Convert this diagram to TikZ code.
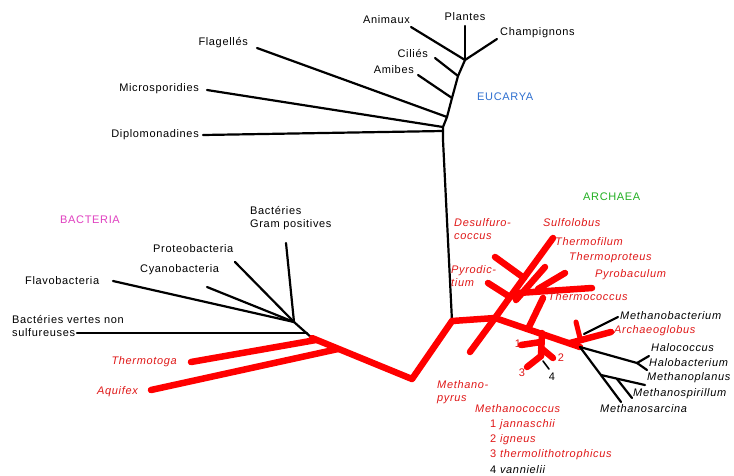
\documentclass[tikz,border=0pt]{standalone}
\usepackage{fontspec}
\setmainfont{Liberation Sans}[LetterSpace=6]
\definecolor{lred}{HTML}{FF0000}
\definecolor{tred}{HTML}{E01818}
\definecolor{eublue}{HTML}{2E6FD0}
\definecolor{argreen}{HTML}{22B022}
\definecolor{bamag}{HTML}{E040C0}
\begin{document}
\begin{tikzpicture}[x=1pt,y=-1pt,
  blk/.style={line width=2.2pt,black,line cap=round,line join=round},
  thin/.style={line width=1.6pt,black,line cap=round,line join=round},
  rd/.style={line width=6.5pt,lred,line cap=round,line join=round},
  lab/.style={inner sep=0pt,font=\fontsize{11}{13}\selectfont},
  ilab/.style={lab,font=\fontsize{11}{13}\selectfont\itshape},
  rlab/.style={ilab,text=tred},
  grp/.style={inner sep=0pt,font=\fontsize{11}{13}\selectfont}]
\useasboundingbox (0,0) rectangle (734,475);
\fill[white] (0,0) rectangle (734,475);

% ---------- Eukarya ----------
\coordinate (eA) at (465,60);
\coordinate (eC) at (458,76);
\coordinate (eAm) at (452,98);
\coordinate (eF) at (447,117);
\coordinate (eM) at (443,127);
\coordinate (eD) at (443,131);
\coordinate (J0) at (452,321);
\coordinate (tPl) at (465,26);
\coordinate (tCh) at (497,39);
\coordinate (tAn) at (411,27);
\coordinate (tCi) at (435,58);
\coordinate (tAm) at (418,75);
\coordinate (tFl) at (257,48);
\coordinate (tMi) at (207,90);
\coordinate (tDi) at (203,135);

\draw[blk] (tPl) -- (eA);
\draw[blk] (tCh) -- (eA);
\draw[blk] (tAn) -- (eA);
\draw[blk] (tCi) -- (eC);
\draw[blk] (tAm) -- (eAm);
\draw[blk] (tFl) -- (eF);
\draw[blk] (tMi) -- (eM);
\draw[blk] (tDi) -- (eD);
\draw[blk] (eA) -- (eC) -- (eAm) -- (eF) -- (eM) -- (eD) -- (443,140) -- (J0);

\node[lab,anchor=south] (lPl) at (465,21) {Plantes};
\node[lab,anchor=west] (lCh) at (500,33) {Champignons};
\node[lab,anchor=east] (lAn) at (410,20) {Animaux};
\node[lab,anchor=east] (lCi) at (428,53) {Ciliés};
\node[lab,anchor=east] (lAm) at (414,70) {Amibes};
\node[lab,anchor=east] (lFl) at (248,43) {Flagellés};
\node[lab,anchor=east] (lMi) at (199,89) {Microsporidies};
\node[lab,anchor=east] (lDi) at (199,135) {Diplomonadines};
\node[grp,anchor=west,text=eublue] (gEu) at (477,97) {EUCARYA};

% ---------- Bacteria ----------
\coordinate (bJ) at (294,322);
\coordinate (bR) at (312,338);
\coordinate (bV) at (412,379);
\coordinate (bT) at (316,340);
\coordinate (bAq) at (338,349);
\coordinate (tGr) at (286,243);
\coordinate (tPr) at (235,262);
\coordinate (tCy) at (207,287);
\coordinate (tFv) at (113,281);
\coordinate (tBv) at (77,333);
\coordinate (bBv) at (307,333);
\coordinate (tTh) at (191,362);
\coordinate (tAq) at (151,390);

\draw[blk] (tGr) -- (bJ);
\draw[blk] (tPr) -- (bJ);
\draw[blk] (tCy) -- (bJ);
\draw[blk] (tFv) -- (bJ);
\draw[blk] (tBv) -- (bBv);
\draw[blk] (bJ) -- (bR);
\draw[rd] (tTh) -- (bT);
\draw[rd] (tAq) -- (bAq);
\draw[rd] (bR) -- (bV) -- (J0);

\node[grp,anchor=west,text=bamag] (gBa) at (60,220) {BACTERIA};
\node[lab,anchor=north west,align=left] (lGr) at (250,206) {Bactéries\\Gram positives};
\node[lab,anchor=west] (lPr) at (153,249) {Proteobacteria};
\node[lab,anchor=west] (lCy) at (140,270) {Cyanobacteria};
\node[lab,anchor=west] (lFv) at (25,281) {Flavobacteria};
\node[lab,anchor=north west,align=left] (lBv) at (12,315) {Bactéries vertes non\\sulfureuses};
\node[rlab,anchor=east] (lTh) at (177,362) {Thermotoga};
\node[rlab,anchor=east] (lAq) at (138,392) {Aquifex};

% ---------- Archaea ----------
\coordinate (A1) at (495,318);
\coordinate (C) at (510,297);
\coordinate (D) at (524,278);
\coordinate (P1) at (518,293);
\coordinate (P2) at (516,300);
\coordinate (P3) at (538,289);
\coordinate (N) at (580,347);
\coordinate (Tc) at (529,327);
\coordinate (Mc) at (542,333);
\coordinate (Mc1) at (541,342);
\coordinate (Mc2) at (541,348);
\coordinate (Mc3) at (541,356);
\coordinate (Ag) at (570,343);
\coordinate (tMp) at (470,352);
\coordinate (tSu) at (553,238);
\coordinate (tDe) at (495,257);
\coordinate (tPy) at (488,283);
\coordinate (tTp) at (565,273);
\coordinate (tTs) at (545,267);
\coordinate (tPb) at (592,288);
\coordinate (tTc) at (543,298);
\coordinate (t1) at (521,345);
\coordinate (t2) at (553,358);
\coordinate (t3) at (527,367);
\coordinate (t4a) at (543,361);
\coordinate (t4) at (549,369);
\coordinate (tAg) at (611,332);
\coordinate (tAgs) at (576,322);
\coordinate (Agm) at (580,338);
\coordinate (Mb) at (584,334);
\coordinate (tMb) at (618,317);
\coordinate (H) at (637,363);
\coordinate (tHc) at (649,356);
\coordinate (tHb) at (647,370);
\coordinate (tMs) at (621,402);
\coordinate (Mp) at (601,375);
\coordinate (tMpl) at (645,385);
\coordinate (Msp) at (617,379);
\coordinate (tMsp) at (632,398);

\draw[rd] (J0) -- (A1);
\draw[rd] (tMp) -- (A1) -- (C) -- (tSu);
\draw[rd] (tDe) -- (D);
\draw[rd] (tPy) -- (C);
\draw[rd] (C) -- (P1) -- (tPb);
\draw[rd] (P3) -- (tTp);
\draw[rd] (P2) -- (tTs);
\draw[rd] (A1) -- (N);
\draw[rd] (tTc) -- (Tc);
\draw[rd] (Mc) -- (Mc3);
\draw[rd] (t1) -- (Mc1);
\draw[rd] (Mc2) -- (t2);
\draw[rd] (Mc3) -- (t3);
\draw[thin] (t4a) -- (t4);
\draw[rd] (Ag) -- (tAg);
\draw[rd,line width=5pt] (tAgs) -- (Agm);
\draw[blk] (Mb) -- (tMb);
\draw[blk] (N) -- (H);
\draw[blk] (H) -- (tHc);
\draw[blk] (H) -- (tHb);
\draw[blk] (N) -- (tMs);
\draw[blk] (Mp) -- (tMpl);
\draw[blk] (Msp) -- (tMsp);

\node[grp,anchor=west,text=argreen] (gAr) at (583,197) {ARCHAEA};
\node[rlab,anchor=north west,align=left] (lDe) at (454,218) {Desulfuro-\\coccus};
\node[rlab,anchor=north west,align=left] (lPy) at (451,265) {Pyrodic-\\tium};
\node[rlab,anchor=west] (lSu) at (543,223) {Sulfolobus};
\node[rlab,anchor=west] (lTf) at (555,242) {Thermofilum};
\node[rlab,anchor=west] (lTp) at (569,258) {Thermoproteus};
\node[rlab,anchor=west] (lPb) at (595,275) {Pyrobaculum};
\node[rlab,anchor=west] (lTc) at (548,297) {Thermococcus};
\node[ilab,anchor=west] (lMb) at (620,316) {Methanobacterium};
\node[rlab,anchor=west] (lAg) at (614,331) {Archaeoglobus};
\node[ilab,anchor=west] (lHc) at (651,348) {Halococcus};
\node[ilab,anchor=west] (lHb) at (649,363) {Halobacterium};
\node[ilab,anchor=west] (lMpl) at (647,378) {Methanoplanus};
\node[ilab,anchor=west] (lMsp) at (633,394) {Methanospirillum};
\node[ilab,anchor=west] (lMs) at (600,409) {Methanosarcina};
\node[rlab,anchor=north west,align=left] (lMp) at (437,380) {Methano-\\pyrus};
\node[lab,text=tred] (n1) at (518,344) {1};
\node[lab,text=tred] (n2) at (561,358) {2};
\node[lab,text=tred] (n3) at (522,373) {3};
\node[lab] (n4) at (552,377) {4};
\node[rlab,anchor=west] (lMcc) at (475,409) {Methanococcus};
\node[lab,anchor=west,text=tred] (lM1) at (490,425) {1 \textit{jannaschii}};
\node[lab,anchor=west,text=tred] (lM2) at (490,440) {2 \textit{igneus}};
\node[lab,anchor=west,text=tred] (lM3) at (490,455) {3 \textit{thermolithotrophicus}};
\node[lab,anchor=west] (lM4) at (490,470) {4 \textit{vannielii}};
\end{tikzpicture}
\end{document}
